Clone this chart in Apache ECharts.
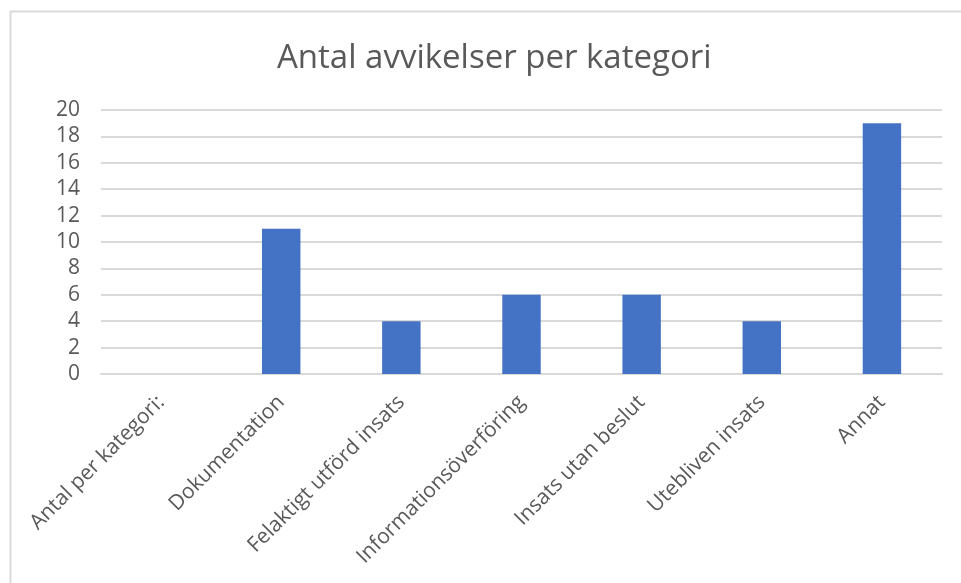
<!DOCTYPE html>
<html><head><meta charset="utf-8">
<script src="https://cdn.jsdelivr.net/npm/echarts@6/dist/echarts.min.js"></script>
<style>html,body{margin:0;padding:0;background:#fff}#c{width:961px;height:583px}</style>
</head><body><div id="c"></div>
<script>
const title = "Antal avvikelser per kategori";
const categories = ["Antal per kategori:", "Dokumentation", "Felaktigt utförd insats", "Informationsöverföring", "Insats utan beslut", "Utebliven insats", "Annat"];
const values = [0, 11, 4, 6, 6, 4, 19];
const yMin = 0, yMax = 20, yStep = 2;

const chart = echarts.init(document.getElementById('c'), null, {renderer: 'canvas'});
chart.setOption({
  animation: false,
  backgroundColor: '#fff',
  title: {
    text: title, left: 272, top: 37,
    textStyle: {fontFamily: 'Open Sans', fontSize: 33, fontWeight: 'normal', color: '#595959'}
  },
  graphic: [{
    type: 'polyline',
    shape: {points: [[10.5, 583], [10.5, 11.5], [961, 11.5]]},
    style: {stroke: '#d9d9d9', lineWidth: 2, fill: null},
    silent: true
  }],
  grid: {left: 101, right: 19, top: 110, bottom: 209, containLabel: false},
  xAxis: {
    type: 'category', data: categories,
    axisLine: {show: true, lineStyle: {color: '#d9d9d9', width: 2}},
    axisTick: {show: false},
    axisLabel: {rotate: 45, interval: 0, margin: 25, fontFamily: 'Open Sans', fontSize: 21, color: '#595959'}
  },
  yAxis: {
    type: 'value', min: yMin, max: yMax, interval: yStep,
    axisLine: {show: false}, axisTick: {show: false},
    splitLine: {lineStyle: {color: '#d9d9d9', width: 2}},
    axisLabel: {margin: 21, fontFamily: 'Open Sans', fontSize: 21, color: '#595959'}
  },
  series: [{
    type: 'bar', data: values, barWidth: '32%',
    itemStyle: {color: '#4472c4'}
  }]
});
</script></body></html>
